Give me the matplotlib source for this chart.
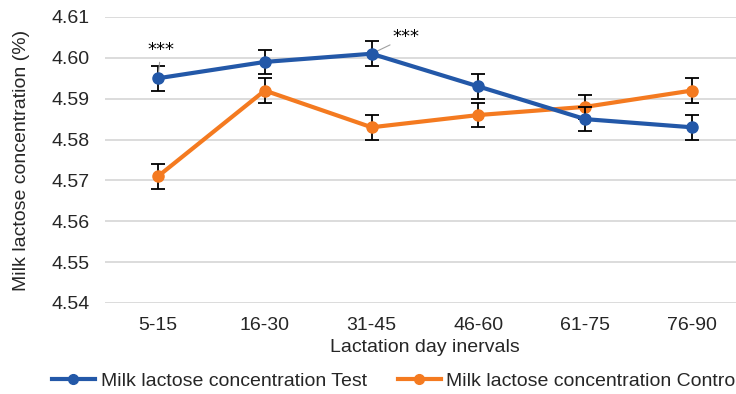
import matplotlib
matplotlib.use("Agg")
import matplotlib.pyplot as plt
from matplotlib.lines import Line2D

intervals = ["5-15", "16-30", "31-45", "46-60", "61-75", "76-90"]
test_vals = [4.595, 4.599, 4.601, 4.593, 4.585, 4.583]
test_err = [0.003, 0.003, 0.003, 0.003, 0.003, 0.003]
ctrl_vals = [4.571, 4.592, 4.583, 4.586, 4.588, 4.592]
ctrl_err = [0.003, 0.003, 0.003, 0.003, 0.003, 0.003]
y_ticks = [4.54, 4.55, 4.56, 4.57, 4.58, 4.59, 4.60, 4.61]
series_names = ["Milk lactose concentration Test", "Milk lactose concentration Control"]

plt.rcParams['font.family'] = ['Liberation Sans', 'DejaVu Sans']

blue = "#2358a8"
orange = "#f47a20"
txt = "#262626"
fs = 14

fig = plt.figure(figsize=(7.36, 3.94), dpi=100)
ax = fig.add_axes([0.1421, 0.231, 0.8707, 0.7259])

x = list(range(len(intervals)))
ax.errorbar(x, test_vals, yerr=test_err, color=blue, lw=3, marker='o', ms=8,
            ecolor='black', elinewidth=1.3, capsize=5, capthick=1.3, zorder=3)
ax.errorbar(x, ctrl_vals, yerr=ctrl_err, color=orange, lw=3, marker='o', ms=8,
            ecolor='black', elinewidth=1.3, capsize=5, capthick=1.3, zorder=2)

ax.set_xlim(-0.5, 5.5)
ax.set_ylim(4.54, 4.61)
ax.set_yticks(y_ticks)
ax.set_yticklabels(["%.2f" % v for v in y_ticks])
ax.set_xticks(x)
ax.set_xticklabels(intervals)
ax.grid(axis='y', color='#d9d9d9', lw=1.3)
ax.set_axisbelow(True)
for s in ax.spines.values():
    s.set_visible(False)
ax.tick_params(length=0, labelsize=fs, colors=txt, pad=10)
ax.tick_params(axis='y', pad=11)

ax.set_xlabel("Lactation day inervals", fontsize=fs, color=txt, labelpad=4)
ax.set_ylabel("Milk lactose concentration (%)", fontsize=fs, color=txt)
ax.yaxis.set_label_coords(-0.116, 0.5)

# significance marks
ax.annotate("***", xy=(0, test_vals[0]), xytext=(2, 20), textcoords='offset points',
            ha='center', va='center', fontsize=13, color='black', family='DejaVu Sans',
            arrowprops=dict(arrowstyle='-', color='#a0a0a0', lw=0.8, shrinkA=0, shrinkB=0))
ax.annotate("***", xy=(2, test_vals[2]), xytext=(25, 12), textcoords='offset points',
            ha='center', va='center', fontsize=13, color='black', family='DejaVu Sans',
            arrowprops=dict(arrowstyle='-', color='#a0a0a0', lw=0.8, shrinkA=0, shrinkB=0))

handles = [Line2D([], [], color=blue, lw=3, marker='o', ms=7),
           Line2D([], [], color=orange, lw=3, marker='o', ms=7)]
fig.legend(handles, series_names, loc='center left', bbox_to_anchor=(0.0707, 0.033), ncol=2,
           frameon=False, fontsize=fs, handlelength=2.2, handletextpad=0.3,
           columnspacing=1.6, borderpad=0, borderaxespad=0, labelcolor=txt)

fig.savefig("out.png", dpi=100)
